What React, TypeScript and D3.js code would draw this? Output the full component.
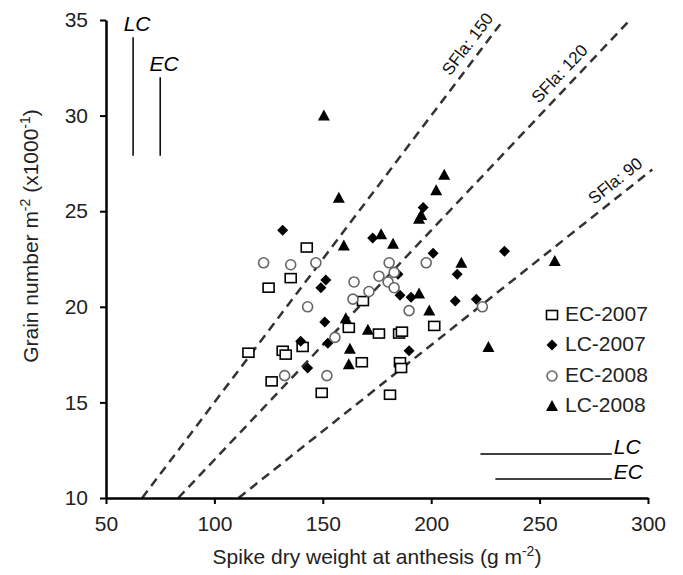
import React, { useEffect, useRef } from 'react';
import * as d3 from 'd3';

// EC-2007 (open squares): [spike dry weight, grain number]
const ec2007 = [
  [115.7, 17.6], [125.0, 21.0], [126.4, 16.1], [131.5, 17.7], [132.9, 17.5],
  [135.2, 21.5], [140.7, 17.9], [142.6, 23.1], [149.5, 15.5], [162.0, 18.9],
  [168.0, 17.1], [168.5, 20.3], [175.9, 18.6], [181.0, 15.4], [185.2, 18.6],
  [186.5, 18.7], [185.6, 17.1], [186.1, 16.8], [201.4, 19.0],
];
// LC-2007 (filled diamonds)
const lc2007 = [
  [131.5, 24.0], [139.8, 18.2], [143.0, 16.8], [149.1, 21.0], [151.4, 21.4],
  [150.9, 19.2], [152.3, 18.1], [173.0, 23.6], [184.7, 21.7], [185.6, 20.6],
  [189.8, 17.7], [190.7, 20.5], [196.3, 25.2], [200.9, 22.8], [211.1, 20.3],
  [212.0, 21.7], [220.8, 20.4], [233.8, 22.9],
];
// EC-2008 (open circles)
const ec2008 = [
  [122.7, 22.3], [132.4, 16.4], [135.2, 22.2], [143.0, 20.0], [146.8, 22.3],
  [151.9, 16.4], [155.6, 18.4], [163.9, 20.4], [164.4, 21.3], [171.3, 20.8],
  [175.9, 21.6], [180.1, 21.3], [180.6, 22.3], [182.9, 21.8], [182.9, 21.0],
  [189.8, 19.8], [197.7, 22.3], [223.6, 20.0],
];
// LC-2008 (filled triangles)
const lc2008 = [
  [150.5, 30.0], [157.4, 25.7], [159.7, 23.2], [160.6, 19.4], [162.0, 17.0],
  [162.5, 17.8], [170.8, 18.8], [176.9, 23.8], [182.4, 23.3], [194.4, 24.6],
  [195.4, 24.8], [194.4, 20.7], [199.1, 19.8], [202.3, 26.1], [206.0, 26.9],
  [213.9, 22.3], [226.4, 17.9], [257.0, 22.4],
];

const seriesNames = ['EC-2007', 'LC-2007', 'EC-2008', 'LC-2008'];

// spike fertility index lines (grains per g), with where the label sits along each line
const sfValues = [150, 120, 90];
const sfLabelX = [222, 264, 289];

const xTicks = [50, 100, 150, 200, 250, 300];
const yTicks = [10, 15, 20, 25, 30, 35];

// LSD bars
const vBarLabels = ['LC', 'EC'];
const vBarX = [62.5, 75];
const vBarTop = [34.1, 32.0];
const vBarBottom = [27.9, 27.9];
const hBarLabels = ['LC', 'EC'];
const hBarY = [12.3, 11.0];
const hBarLeft = [222.7, 229.6];
const hBarRight = [283.3, 283.3];

const App = () => {
  const ref = useRef<SVGSVGElement>(null);

  useEffect(() => {
    document.body.style.margin = '0';
    const svg = d3.select(ref.current);
    svg.selectAll('*').remove();

    const font = '"Liberation Sans", Arial, sans-serif';
    const x = d3.scaleLinear().domain([50, 300]).range([106, 648]);
    const y = d3.scaleLinear().domain([10, 35]).range([498, 20]);

    // dashed SF lines
    sfValues.forEach((sf, i) => {
      const x0 = (10 * 1000) / sf;
      const x1 = Math.min(302, (35 * 1000) / sf);
      svg
        .append('line')
        .attr('x1', x(x0))
        .attr('y1', y(10))
        .attr('x2', x(x1))
        .attr('y2', y((x1 * sf) / 1000))
        .attr('stroke', '#333')
        .attr('stroke-width', 2.5)
        .attr('stroke-dasharray', '9,6');

      const px = x(sfLabelX[i]);
      const py = y((sfLabelX[i] * sf) / 1000);
      const ang = Math.atan2(y(((sfLabelX[i] + 10) * sf) / 1000) - py, x(sfLabelX[i] + 10) - px);
      const off = 13;
      const lx = px + Math.sin(ang) * off;
      const ly = py - Math.cos(ang) * off;
      svg
        .append('text')
        .attr('transform', `translate(${lx},${ly}) rotate(${(ang * 180) / Math.PI})`)
        .attr('text-anchor', 'middle')
        .attr('dominant-baseline', 'middle')
        .style('font-family', font)
        .style('font-size', '17px')
        .attr('fill', '#111')
        .text(`SFla: ${sf}`);
    });

    // axes
    const xAxis = svg
      .append('g')
      .attr('transform', `translate(0,${y(10)})`)
      .call(d3.axisBottom(x).tickValues(xTicks).tickSize(6).tickSizeOuter(0).tickPadding(12));
    const yAxis = svg
      .append('g')
      .attr('transform', `translate(${x(50)},0)`)
      .call(d3.axisLeft(y).tickValues(yTicks).tickSize(6).tickSizeOuter(0).tickPadding(12));
    [xAxis, yAxis].forEach((g) => {
      g.select('.domain').attr('stroke', '#000').attr('stroke-width', 2.5);
      g.selectAll('.tick line').attr('stroke', '#000').attr('stroke-width', 2);
      g.selectAll('.tick text')
        .style('font-family', font)
        .style('font-size', '21px')
        .attr('fill', '#222');
    });

    // axis titles
    svg
      .append('text')
      .attr('x', 377)
      .attr('y', 564)
      .attr('text-anchor', 'middle')
      .style('font-family', font)
      .style('font-size', '21px')
      .attr('fill', '#222')
      .html('Spike dry weight at anthesis (g m<tspan dy="-8" font-size="14">-2</tspan><tspan dy="8">)</tspan>');

    svg
      .append('text')
      .attr('transform', 'translate(38,236) rotate(-90)')
      .attr('text-anchor', 'middle')
      .style('font-family', font)
      .style('font-size', '21px')
      .attr('fill', '#222')
      .html(
        'Grain number  m<tspan dy="-8" font-size="14">-2</tspan><tspan dy="8"> (x1000</tspan><tspan dy="-8" font-size="14">-1</tspan><tspan dy="8">)</tspan>'
      );

    // LSD bars
    vBarX.forEach((bx, i) => {
      svg
        .append('line')
        .attr('x1', x(bx))
        .attr('x2', x(bx))
        .attr('y1', y(vBarTop[i]))
        .attr('y2', y(vBarBottom[i]))
        .attr('stroke', '#000')
        .attr('stroke-width', 1.5);
      svg
        .append('text')
        .attr('x', x(bx) + 4)
        .attr('y', y(vBarTop[i]) - 6)
        .attr('text-anchor', 'middle')
        .style('font-family', font)
        .style('font-size', '21px')
        .style('font-style', 'italic')
        .text(vBarLabels[i]);
    });
    hBarY.forEach((by, i) => {
      svg
        .append('line')
        .attr('x1', x(hBarLeft[i]))
        .attr('x2', x(hBarRight[i]))
        .attr('y1', y(by))
        .attr('y2', y(by))
        .attr('stroke', '#000')
        .attr('stroke-width', 1.5);
      svg
        .append('text')
        .attr('x', x(hBarRight[i]) + 2)
        .attr('y', y(by))
        .style('font-family', font)
        .style('font-size', '21px')
        .style('font-style', 'italic')
        .text(hBarLabels[i]);
    });

    // marker drawers
    const drawSquare = (g: any, cx: number, cy: number) =>
      g.append('rect')
        .attr('x', cx - 5.5).attr('y', cy - 4.5).attr('width', 11).attr('height', 9)
        .attr('fill', '#fff').attr('stroke', '#000').attr('stroke-width', 1.6);
    const drawDiamond = (g: any, cx: number, cy: number) =>
      g.append('path')
        .attr('d', `M${cx},${cy - 5.5}L${cx + 5.5},${cy}L${cx},${cy + 5.5}L${cx - 5.5},${cy}Z`)
        .attr('fill', '#000');
    const drawCircle = (g: any, cx: number, cy: number) =>
      g.append('circle')
        .attr('cx', cx).attr('cy', cy).attr('r', 5)
        .attr('fill', '#fff').attr('stroke', '#666').attr('stroke-width', 1.6);
    const drawTriangle = (g: any, cx: number, cy: number) =>
      g.append('path')
        .attr('d', `M${cx},${cy - 6}L${cx + 6},${cy + 5}L${cx - 6},${cy + 5}Z`)
        .attr('fill', '#000');

    const drawers = [drawSquare, drawDiamond, drawCircle, drawTriangle];
    const allSeries = [ec2007, lc2007, ec2008, lc2008];

    const pts = svg.append('g');
    allSeries.forEach((s, i) => {
      s.forEach((d) => drawers[i](pts, x(d[0]), y(d[1])));
    });

    // legend
    const legendY = [315, 345, 376, 406];
    seriesNames.forEach((name, i) => {
      drawers[i](svg, 552, legendY[i]);
      svg
        .append('text')
        .attr('x', 565)
        .attr('y', legendY[i])
        .attr('dominant-baseline', 'middle')
        .style('font-family', font)
        .style('font-size', '21px')
        .attr('fill', '#222')
        .text(name);
    });
  }, []);

  return <svg ref={ref} width={683} height={575} style={{ display: 'block', background: '#fff' }} />;
};

export default App;
